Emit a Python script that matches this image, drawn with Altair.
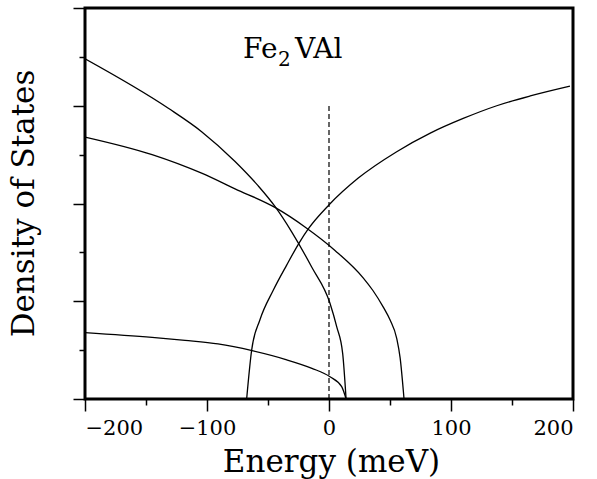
import altair as alt
import pandas as pd

# ---- data (Energy in meV, DOS in arbitrary units) ----
a_E = [-200, -131.7, -104.4, -77, -58, -44.3, -30.6, -14.2, 0.8, 6.3, 11.2, 14]
a_y = [3.48, 2.974, 2.735, 2.43, 2.18, 1.97, 1.71, 1.35, 0.98, 0.74, 0.467, 0.0]

b_E = [-200, -145, -104.4, -77, -44.3, -19.7, 4.9, 28, 36, 44.5, 50, 55.5, 58.3, 61.5]
b_y = [2.68, 2.50, 2.31, 2.15, 1.96, 1.76, 1.52, 1.24, 1.11, 0.94, 0.81, 0.62, 0.42, 0.0]

c_E = [-200, -145, -118, -91, -63, -36, -14, 0.8, 10.4, 14]
c_y = [0.68, 0.631, 0.60, 0.563, 0.494, 0.406, 0.314, 0.228, 0.126, 0.0]

d_E = [-67.5, -63.4, -56.6, -45.6, -34.7, -24.3, -17, 0.3, 24, 55.5, 83, 110, 137.5, 165, 197.5]
d_y = [0.0, 0.50, 0.81, 1.115, 1.37, 1.60, 1.74, 1.99, 2.26, 2.53, 2.72, 2.87, 3.0, 3.10, 3.20]

fermi_E = [0]
fermi_lo = [0]
fermi_hi = [3.0]

x_major = [-200, -100, 0, 100, 200]
x_minor = [-150, -50, 50, 150]
y_major = [0, 1, 2, 3, 4]
y_minor = [0.5, 1.5, 2.5, 3.5]

rows = []
for name, E, Y in [("A", a_E, a_y), ("B", b_E, b_y), ("C", c_E, c_y), ("D", d_E, d_y)]:
    rows += [{"band": name, "E": e, "dos": y} for e, y in zip(E, Y)]
df = pd.DataFrame(rows)
fermi_df = pd.DataFrame({"E": fermi_E, "lo": fermi_lo, "hi": fermi_hi})

FONT = "DejaVu Serif"
xscale = alt.Scale(domain=[-200, 200], nice=False, zero=False)
yscale = alt.Scale(domain=[0, 4], nice=False, zero=False)

x_axis_major = alt.Axis(
    orient="bottom", values=x_major, tickSize=12, tickWidth=1.5, tickColor="black",
    domain=False, grid=False, labelFont=FONT, labelFontSize=21, labelColor="black",
    labelPadding=6, title="Energy (meV)", titleFont=FONT, titleFontSize=31,
    titleFontWeight="normal", titleColor="black", titleX=246, titleY=72,
    titleBaseline="alphabetic", titleAnchor="middle", titleAlign="center",
)
y_axis_major = alt.Axis(
    orient="left", values=y_major, tickSize=12, tickWidth=1.5, tickColor="black",
    domain=False, grid=False, labels=False, title="Density of States",
    titleFont=FONT, titleFontSize=31, titleFontWeight="normal", titleColor="black",
    titleX=-52, titleY=195, titleBaseline="alphabetic", titleAngle=-90,
    titleAnchor="middle", titleAlign="center",
)
x_axis_minor = alt.Axis(
    orient="bottom", values=x_minor, tickSize=6, tickWidth=1.5, tickColor="black",
    domain=False, grid=False, labels=False, title="",
)
y_axis_minor = alt.Axis(
    orient="left", values=y_minor, tickSize=6, tickWidth=1.5, tickColor="black",
    domain=False, grid=False, labels=False, title="",
)

lines = alt.Chart(df).mark_line(
    color="black", strokeWidth=1.3, clip=True, interpolate="monotone"
).encode(
    x=alt.X("E:Q", scale=xscale, axis=x_axis_major),
    y=alt.Y("dos:Q", scale=yscale, axis=y_axis_major),
    detail="band:N",
    order="E:Q",
)

fermi = alt.Chart(fermi_df).mark_rule(color="black", strokeWidth=1.2, strokeDash=[5, 3]).encode(
    x=alt.X("E:Q", scale=xscale, axis=x_axis_minor),
    y=alt.Y("lo:Q", scale=yscale, axis=y_axis_minor),
    y2="hi:Q",
)

def label(txt, px, py, size):
    return alt.Chart(pd.DataFrame({"t": [txt]})).mark_text(
        font=FONT, fontSize=size, align="left", baseline="alphabetic", color="black"
    ).encode(x=alt.value(px), y=alt.value(py), text="t:N")

title_fe = label("Fe", 158, 50, 28)
title_2 = label("2", 193, 58, 20)
title_val = label("VAl", 210, 50, 28)

chart = alt.layer(lines, fermi, title_fe, title_2, title_val).resolve_axis(
    x="independent", y="independent"
).properties(
    width=488, height=391,
    autosize=alt.AutoSizeParams(type="none"),
    padding={"left": 85, "top": 8, "right": 24, "bottom": 80},
).configure(background="white").configure_view(stroke="black", strokeWidth=3)

chart.save("out.html", embed_options={"renderer": "svg", "actions": False})
